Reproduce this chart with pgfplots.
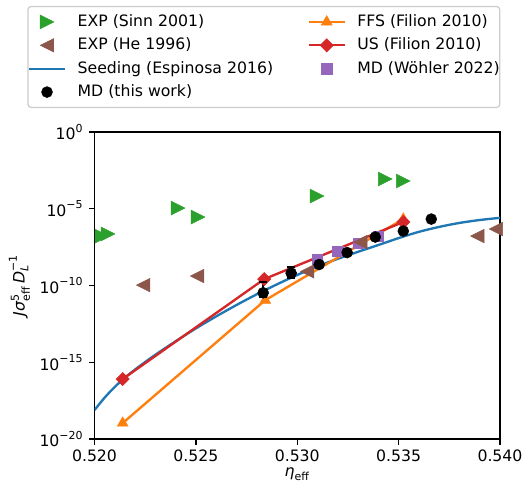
\documentclass[border=0pt]{standalone}
\usepackage{fontspec}
\setmainfont{DejaVu Sans}
\usepackage{amsmath}
\usepackage{pgfplots}
\pgfplotsset{compat=1.18}
\definecolor{tabblue}{HTML}{1F77B4}
\definecolor{taborange}{HTML}{FF7F0E}
\definecolor{tabgreen}{HTML}{2CA02C}
\definecolor{tabred}{HTML}{D62728}
\definecolor{tabpurple}{HTML}{9467BD}
\definecolor{tabbrown}{HTML}{8C564B}
\pgfdeclareplotmark{mtri}{%
  \pgfpathmoveto{\pgfqpoint{0pt}{\pgfplotmarksize}}%
  \pgfpathlineto{\pgfqpoint{-\pgfplotmarksize}{-\pgfplotmarksize}}%
  \pgfpathlineto{\pgfqpoint{\pgfplotmarksize}{-\pgfplotmarksize}}%
  \pgfpathclose\pgfusepathqfillstroke}
\pgfplotsset{
  myleg/.style={legend image code/.code={%
    \draw[mark repeat=2,mark phase=2,##1] plot coordinates {(0cm,0cm) (0.4cm,0cm) (0.8cm,0cm)};}},
}
\begin{document}
\begin{tikzpicture}
\begin{axis}[
  scale only axis, width=258.3pt, height=195.6pt,
  ymode=log, log basis y=10,
  xmin=0.52, xmax=0.54, ymin=1e-20, ymax=1,
  xtick={0.52,0.525,0.53,0.535,0.54},
  xticklabels={0.520,0.525,0.530,0.535,0.540},
  ytick={1e-20,1e-15,1e-10,1e-5,1},
  yticklabels={$\text{10}^{\text{−20}}$,$\text{10}^{\text{−15}}$,$\text{10}^{\text{−10}}$,$\text{10}^{\text{−5}}$,$\text{10}^{\text{0}}$},
  yminorticks=false, xminorticks=false,
  tick align=outside, tick pos=left, major tick length=3.5pt,
  every tick/.style={black, line width=0.8pt},
  axis line style={line width=0.8pt},
  clip=true,
  every axis y label/.style={at={(axis description cs:-0.185,0.5)}, rotate=90, anchor=center},
  every axis x label/.style={at={(axis description cs:0.5,-0.114)}, anchor=center},
  ylabel={$\textit{J}\textit{σ}^{\text{5}}_{\text{eff}}\,\textit{D}_{\textit{L}}^{\text{−1}}$},
  xlabel={$\textit{η}_{\text{eff}}$},
  legend columns=2,
  legend cell align=left,
  legend style={at={(1,1)}, anchor=south east, xshift=0.3pt, yshift=15.3pt,
    draw=black!20, line width=0.8pt, rounded corners=2pt, fill=white,
    inner xsep=0pt, inner ysep=4pt, row sep=3.4pt,
    nodes={inner xsep=0pt, inner ysep=1pt, text height=7.5pt, text depth=2pt},
    /tikz/every odd column/.append style={column sep=7.4pt},
    /tikz/every even column/.append style={column sep=22pt}},
  myleg,
]
% legend (row-wise order)
\addlegendimage{only marks, mark=mtri, mark size=4.4pt, tabgreen, mark options={rotate=-90, line width=0.3pt}, myleg}
\addlegendentry{EXP (Sinn 2001)}
\addlegendimage{taborange, line width=1.5pt, mark=triangle*, mark size=4pt, mark options={solid, line width=0.3pt}, myleg}
\addlegendentry{FFS (Filion 2010)\hspace{4.6pt}}
\addlegendimage{only marks, mark=mtri, mark size=4.3pt, tabbrown, mark options={rotate=90, line width=0.3pt}, myleg}
\addlegendentry{EXP (He 1996)}
\addlegendimage{tabred, line width=1.5pt, mark=square*, mark size=3pt, mark options={rotate=45, line width=0.3pt}, myleg}
\addlegendentry{US (Filion 2010)\hspace{4.6pt}}
\addlegendimage{tabblue, line width=1.5pt, myleg}
\addlegendentry{Seeding (Espinosa 2016)}
\addlegendimage{only marks, mark=square*, mark size=3.3pt, tabpurple, mark options={line width=0.3pt}, myleg}
\addlegendentry{MD (Wöhler 2022)\hspace{4.6pt}}
\addlegendimage{only marks, mark=*, mark size=3.5pt, black, mark options={line width=0.3pt}, myleg}
\addlegendentry{MD (this work)}

% Seeding (Espinosa 2016)
\addplot[tabblue, line width=1.5pt, smooth, forget plot] coordinates {
(0.5200,7.76e-19) (0.5205,5.01e-18) (0.5210,2.51e-17) (0.5215,1.00e-16)
(0.5220,3.39e-16) (0.5225,1.05e-15) (0.5230,3.09e-15) (0.5240,2.34e-14)
(0.5250,1.62e-13) (0.5260,9.77e-13) (0.5270,5.37e-12) (0.5280,2.69e-11)
(0.5290,1.20e-10) (0.5300,4.90e-10) (0.5310,1.78e-9) (0.5320,5.50e-9)
(0.5330,1.58e-8) (0.5340,4.37e-8) (0.5350,1.23e-7) (0.5360,3.16e-7)
(0.5370,6.61e-7) (0.5380,1.20e-6) (0.5390,1.86e-6) (0.5400,2.57e-6)};

% FFS (Filion 2010)
\addplot[taborange, line width=1.5pt, mark=triangle*, mark size=4pt, mark options={solid, line width=0.3pt}, forget plot] coordinates {
(0.52139,1.10e-19) (0.52842,1.12e-11) (0.53523,2.14e-6)};

% US (Filion 2010)
\addplot[tabred, line width=1.5pt, mark=square*, mark size=3pt, mark options={rotate=45, line width=0.3pt}, forget plot] coordinates {
(0.52139,8.13e-17) (0.52837,2.63e-10) (0.53523,1.38e-6)};

% MD (Woehler 2022)
\addplot[only marks, mark=square*, mark size=3.3pt, tabpurple, mark options={line width=0.3pt}, forget plot] coordinates {
(0.531,5.37e-9) (0.532,1.78e-8) (0.533,5.89e-8) (0.534,1.66e-7)};

% EXP (He 1996)
\addplot[only marks, mark=mtri, mark size=4.3pt, tabbrown, mark options={rotate=90, line width=0.3pt}, forget plot] coordinates {
(0.52240,1.07e-10) (0.52506,4.17e-10) (0.53049,8.3e-10) (0.53311,6.8e-8)
(0.53888,1.66e-7) (0.5398,4.8e-7)};

% EXP (Sinn 2001)
\addplot[only marks, mark=mtri, mark size=4.4pt, tabgreen, mark options={rotate=-90, line width=0.3pt}, forget plot] coordinates {
(0.52037,1.66e-7) (0.52067,2.29e-7) (0.52412,1.12e-5) (0.52511,2.88e-6)
(0.53098,6.76e-5) (0.53434,8.71e-4) (0.53523,6.46e-4)};

% MD (this work): error bars
\addplot[black, line width=1.5pt, forget plot] coordinates {(0.52832,1.86e-11) (0.52832,1.78e-10)};
\addplot[black, line width=1.5pt, forget plot] coordinates {(0.52970,3.2e-10) (0.52970,1.66e-9)};
\addplot[only marks, mark=-, mark size=2.5pt, black, line width=1.5pt, forget plot] coordinates {
(0.52832,1.86e-11) (0.52832,1.78e-10) (0.52970,3.2e-10) (0.52970,1.66e-9)};
% MD (this work): points
\addplot[only marks, mark=*, mark size=3.5pt, black, mark options={line width=0.3pt}, forget plot] coordinates {
(0.52832,3.39e-11) (0.52970,6.46e-10) (0.53108,2.34e-9) (0.53246,1.41e-8)
(0.53385,1.45e-7) (0.53523,3.55e-7) (0.53661,2.14e-6)};
\end{axis}
\pgfresetboundingbox
\path ([shift={(-60.2pt,-29.9pt)}]current axis.south west) rectangle ([shift={(15.3pt,84.1pt)}]current axis.north east);
\end{tikzpicture}
\end{document}
